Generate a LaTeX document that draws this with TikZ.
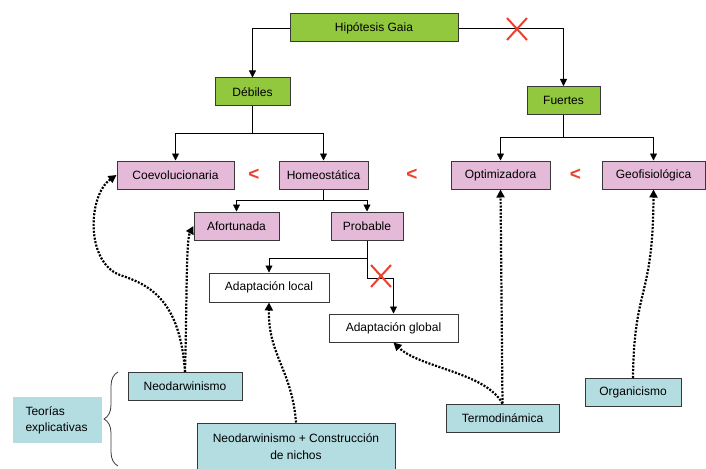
\documentclass[tikz,border=0pt]{standalone}
\usepackage{fontspec}
\setmainfont{Liberation Sans}
\usepackage{tikz}
\usetikzlibrary{arrows.meta}
\usetikzlibrary{decorations.pathreplacing}
\definecolor{gaiagreen}{RGB}{146,200,62}
\definecolor{gaiapink}{RGB}{228,186,216}
\definecolor{gaiacyan}{RGB}{180,221,226}
\definecolor{gaiared}{RGB}{238,64,44}
\definecolor{gaiaborder}{RGB}{56,56,56}
\tikzset{
  box/.style={draw=gaiaborder, line width=1pt, minimum height=28pt, inner sep=2pt, font=\fontsize{12}{17}\selectfont},
  greenbox/.style={box, fill=gaiagreen},
  pinkbox/.style={box, fill=gaiapink},
  whitebox/.style={box, fill=white},
  cyanbox/.style={box, fill=gaiacyan},
  link/.style={line width=0.8pt, -{Triangle[width=7pt,length=7pt]}},
  dotlink/.style={line width=2.2pt, dash pattern=on 2pt off 1.5pt, -{Triangle[width=8pt,length=8pt]}},
  less/.style={text=gaiared, font=\fontsize{19}{19}\selectfont\bfseries},
}
\newcommand{\redX}[2]{\draw[gaiared, line width=2pt] (#1-10, #2-11) -- (#1+10, #2+11); \draw[gaiared, line width=2pt] (#1+10, #2-11) -- (#1-10, #2+11);}

\begin{document}
\begin{tikzpicture}[x=1pt, y=-1pt]
        \useasboundingbox (0,0) rectangle (706,468);
        % level1
        \node[greenbox, minimum width=168pt] (gaia) at (374,28) {Hipótesis Gaia};
        \node[greenbox, minimum width=75pt] (debiles) at (252.5,92) {Débiles};
        \node[greenbox, minimum width=73pt] (fuertes) at (563.5,100.5) {Fuertes};
        % level2
        \node[pinkbox, minimum width=117pt] (coev) at (175.5,175) {Coevolucionaria};
        \node[pinkbox, minimum width=89pt] (homeo) at (323.5,175) {Homeostática};
        \node[pinkbox, minimum width=99pt] (optim) at (500.5,175) {Optimizadora};
        \node[pinkbox, minimum width=103pt] (geo) at (653.5,175) {Geofisiológica};
        \node[less] (lt1) at (254,175) {<};
        \node[less] (lt2) at (412,175) {<};
        \node[less] (lt3) at (575.5,175) {<};
        % level3
        \node[pinkbox, minimum width=85pt] (afort) at (236.5,226) {Afortunada};
        \node[pinkbox, minimum width=72pt] (prob) at (367,226) {Probable};
        \node[whitebox, minimum width=120pt, minimum height=29pt] (local) at (269,287.5) {Adaptación local};
        \node[whitebox, minimum width=129pt] (global) at (393.5,328) {Adaptación global};
        % theories
        \node[fill=gaiacyan, minimum width=89pt, minimum height=46pt, text width=64pt, align=left, font=\fontsize{12}{16}\selectfont] (teorias) at (57.5,420) {Teorías\\explicativas};
        \node[cyanbox, minimum width=114pt] (neo) at (185,386.5) {Neodarwinismo};
        \node[cyanbox, minimum width=198pt, minimum height=48pt, align=center] (ncn) at (296,447) {Neodarwinismo + Construcción\\de nichos};
        \node[cyanbox, minimum width=113pt] (termo) at (502.5,418) {Termodinámica};
        \node[cyanbox, minimum width=96pt] (organ) at (633,392.5) {Organicismo};
        \draw[decorate, decoration={brace, amplitude=14pt}, gaiaborder, line width=0.8pt] (118,466) -- (118,372);
        % tree links
        \draw[link] (gaia.west) -| (debiles.north);
        \draw[link] (gaia.east) -| (fuertes.north);
        \draw[line width=0.8pt] (debiles.south) -- ++(0,27) coordinate (d1);
        \draw[link] (d1) -| (coev.north);
        \draw[link] (d1) -| (homeo.north);
        \draw[line width=0.8pt] (fuertes.south) -- ++(0,22) coordinate (f1);
        \draw[link] (f1) -| (optim.north);
        \draw[link] (f1) -| (geo.north);
        \draw[line width=0.8pt] (homeo.south) -- ++(0,11) coordinate (h1);
        \draw[link] (h1) -| (afort.north);
        \draw[link] (h1) -| (prob.north);
        \draw[line width=0.8pt] (prob.south) -- ++(0,18) coordinate (p1);
        \draw[link] (p1) -| (local.north);
        \draw[link] (p1) -- ++(0,20) -| (global.north);
        \redX{517}{29}
        \redX{381}{276}
        % dotted links
        \draw[dotlink] (neo.north) .. controls (180,300) and (150,285) .. (120,275) .. controls (85,262) and (88,195) .. (coev.west);
        \draw[dotlink] (neo.north) .. controls (187,300) and (186,240) .. (afort.west);
        \draw[dotlink] (ncn.north) .. controls (292,370) and (268,355) .. (local.south);
        \draw[dotlink] (termo.north) .. controls (485,372) and (420,368) .. (global.south);
        \draw[dotlink] (termo.north) -- (optim.south);
        \draw[dotlink] (organ.north) .. controls (634,285) and (653,300) .. (geo.south);
\end{tikzpicture}
\end{document}
